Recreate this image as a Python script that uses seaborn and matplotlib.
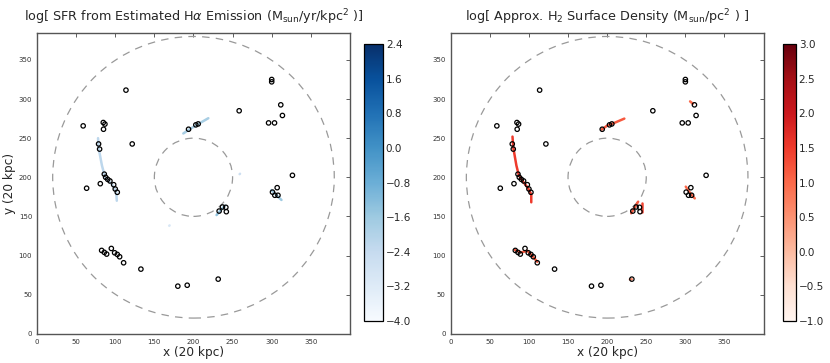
import numpy as np
import pandas as pd
import matplotlib
matplotlib.use("Agg")
import matplotlib.pyplot as plt
import seaborn as sns
from matplotlib.patches import Circle
from matplotlib.colors import Normalize

# star cluster positions (same on both maps)
clus_x = [113.7, 59, 84.7, 86.8, 85, 121.7, 78.7, 80, 86, 87.7, 90.3, 93.2, 98, 100, 102.6,
          80.9, 63.4, 193.7, 203, 206, 258.4, 300, 300, 311.6, 313.7, 296, 303.6, 326.5,
          307, 301, 304, 308, 237, 241.4, 232.8, 242, 82.6, 86, 89, 95, 99.2, 102.6,
          105.6, 110.7, 132.8, 231.6, 180, 192]
clus_y = [311.4, 265.7, 270, 268, 261.4, 242.6, 242.6, 236, 204, 200, 197.4, 195.3, 190.5,
          185, 180.8, 191.8, 186, 261.4, 267, 268.2, 285, 325, 322, 292.6, 279, 269.5,
          269.5, 202.5, 186.7, 181, 177, 177, 162, 161.6, 156.8, 156, 106.5, 104, 101.8,
          109, 103.5, 101.4, 98.4, 90.7, 82.6, 69.8, 60.8, 62]

# emission streaks: knots (x, y) and log value
ha_streaks = [
    ([78, 79, 83, 87, 95, 101, 102], [250, 236, 215, 200, 192, 183, 170], -2.2),
    ([187, 196, 206, 219], [256, 262, 268, 275.5], -1.8),
    ([229.5, 235, 240], [151.7, 158, 163.6], -1.4),
    ([299.7, 305, 312.5], [183.7, 178, 171], -1.6),
    ([259, 259.5], [204, 204.5], -2.6),
    ([169, 169.5], [138, 138.5], -3.0),
]
h2_streaks = [
    ([79, 80, 84, 87, 92, 99, 103, 103], [252, 238, 215, 203, 195, 186, 178, 168], 1.5),
    ([193, 200, 208, 222], [261, 266, 269, 275], 1.2),
    ([230.7, 235, 239.6], [154, 161, 168.8], 1.2),
    ([244, 244], [166.7, 156], 1.4),
    ([300.5, 306, 312], [188, 180, 173], 1.0),
    ([82, 90, 98, 104, 110.6], [107, 104, 106, 100, 92], 1.2),
    ([229, 231.5], [69.4, 69.6], 0.6),
    ([306, 309.5], [297, 294], 1.0),
]

ha_ticks = [2.4, 1.6, 0.8, 0.0, -0.8, -1.6, -2.4, -3.2, -4.0]
h2_ticks = [3.0, 2.5, 2.0, 1.5, 1.0, 0.5, 0.0, -0.5, -1.0]

centre = (200, 200)
r_outer, r_inner = 180, 50

sns.set_style("white")
plt.rcParams['font.family'] = ['DejaVu Sans']

fig = plt.figure(figsize=(8.3, 3.63), dpi=100)
ax1 = fig.add_axes([0.0446, 0.0799, 0.377, 0.829])
ax2 = fig.add_axes([0.543, 0.0799, 0.377, 0.829])
cax1 = fig.add_axes([0.4386, 0.1157, 0.0229, 0.763])
cax2 = fig.add_axes([0.943, 0.1157, 0.0160, 0.763])

clus = pd.DataFrame({"x": clus_x, "y": clus_y})

panels = [
    (ax1, cax1, ha_streaks, "Blues", -4.0, 2.4, ha_ticks, 9.2,
     r"log[ SFR from Estimated H$\alpha$ Emission ($\mathrm{M_{sun}/yr/kpc^2}$ )]"),
    (ax2, cax2, h2_streaks, "Reds", -1.0, 3.0, h2_ticks, 9.2,
     r"log[ Approx. $\mathrm{H_2}$ Surface Density ($\mathrm{M_{sun}/pc^2}$ ) ]"),
]

for ax, cax, streaks, cmap_name, vmin, vmax, ticks, tsize, title in panels:
    cmap = plt.get_cmap(cmap_name)
    norm = Normalize(vmin, vmax)
    for xs, ys, val in streaks:
        ax.plot(xs, ys, color=cmap(norm(val)), lw=1.8, solid_capstyle="round", zorder=2)
    for r in (r_outer, r_inner):
        ax.add_patch(Circle(centre, r, fill=False, ls=(0, (6, 5)), lw=0.9,
                            ec="#999999", zorder=1))
    sns.scatterplot(data=clus, x="x", y="y", ax=ax, s=10, facecolor="none",
                    edgecolor="black", linewidth=0.9, zorder=3)
    ax.set_xlim(0, 400)
    ax.set_ylim(0, 384)
    ax.set_aspect("equal")
    ax.set_xticks(range(0, 400, 50))
    ax.set_yticks(range(0, 400, 50))
    ax.tick_params(direction="in", top=True, right=True, length=3, width=0.6,
                   labelsize=5, colors="#444444", labelcolor="#333333")
    for sp in ax.spines.values():
        sp.set_color("#555555")
        sp.set_linewidth(1.0)
    ax.set_title(title, fontsize=tsize, pad=9)
    ax.set_xlabel("x (20 kpc)", fontsize=8.7, labelpad=1)
    ax.set_ylabel("")

    cb = fig.colorbar(plt.cm.ScalarMappable(norm=norm, cmap=cmap), cax=cax)
    cb.set_ticks(ticks)
    cb.ax.tick_params(direction="in", length=3, width=0.6, labelsize=7.5, pad=2)
    cb.outline.set_edgecolor("black")
    cb.outline.set_linewidth(0.9)

ax1.set_ylabel("y (20 kpc)", fontsize=8.7, labelpad=2)

fig.savefig("out.png", dpi=100)
